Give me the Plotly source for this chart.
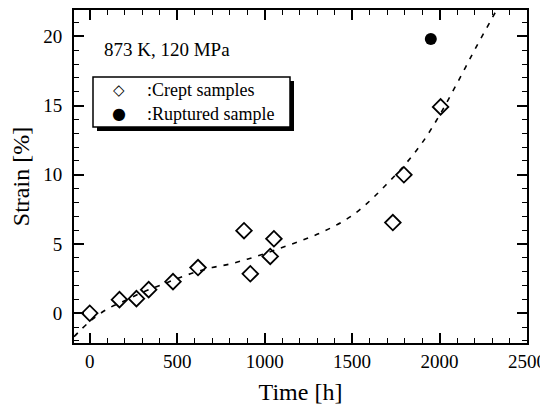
import plotly.graph_objects as go

# Crept samples
crept_time = [0, 170, 267, 337, 476, 619, 882, 918, 1032, 1053, 1733, 1796, 2006]
crept_strain = [0.0, 0.98, 1.05, 1.7, 2.28, 3.3, 5.96, 2.85, 4.1, 5.38, 6.55, 10.0, 14.9]
# Ruptured sample
rupt_time = [1950]
rupt_strain = [19.8]
# Dashed fit curve
fit_time = [-90, 0, 100, 200, 300, 400, 500, 600, 700, 800, 900, 1000, 1100, 1200, 1300,
            1400, 1500, 1600, 1700, 1800, 1900, 2000, 2100, 2200, 2300, 2340]
fit_strain = [-1.7, -0.6, 0.3, 0.9, 1.5, 2.0, 2.5, 2.95, 3.3, 3.55, 3.9, 4.3, 4.75, 5.2, 5.7,
              6.3, 7.05, 8.1, 9.35, 10.7, 12.3, 14.3, 16.6, 19.0, 21.3, 22.2]

x_ticks = [0, 500, 1000, 1500, 2000, 2500]
y_ticks = [0, 5, 10, 15, 20]
legend_labels = [":Crept samples", ":Ruptured sample"]

FONT = "Liberation Serif, Times New Roman, serif"

# page body has an 8px margin; figure starts at (8, 8) in the window
OFF = 8
# plot area in window pixels
L, R, T, B = 74, 527, 10, 343
W, H = R - L, B - T
FIG_W, FIG_H = 548 - OFF, 410 - OFF


def px(x):
    return (x - L) / W


def py(y):
    return (B - y) / H


fig = go.Figure()
fig.add_trace(go.Scatter(x=fit_time, y=fit_strain, mode="lines",
                         line=dict(color="black", width=1.6, dash="5px,7px", shape="spline"),
                         showlegend=False, hoverinfo="skip"))
fig.add_trace(go.Scatter(x=crept_time, y=crept_strain, mode="markers", name=legend_labels[0],
                         showlegend=False,
                         marker=dict(symbol="diamond-open", size=12, color="black",
                                     line=dict(width=1.8, color="black"))))
fig.add_trace(go.Scatter(x=rupt_time, y=rupt_strain, mode="markers", name=legend_labels[1],
                         showlegend=False,
                         marker=dict(symbol="circle", size=12, color="black")))

axis_common = dict(showline=True, linecolor="black", linewidth=2, mirror="ticks",
                   ticks="inside", ticklen=10, tickwidth=1.6, tickcolor="black",
                   showgrid=False, zeroline=False, automargin=False,
                   tickfont=dict(family=FONT, size=19, color="black"))

fig.update_xaxes(range=[-90, 2500], tickvals=x_ticks,
                 minor=dict(dtick=100, ticks="inside", ticklen=5, tickwidth=1.4, tickcolor="black", tick0=0),
                 title=dict(text="Time [h]", font=dict(family=FONT, size=24, color="black"), standoff=12),
                 **axis_common)
fig.update_yaxes(range=[-2.15, 21.9], tickvals=y_ticks, ticklabelstandoff=6,
                 minor=dict(dtick=1, ticks="inside", ticklen=5, tickwidth=1.4, tickcolor="black", tick0=0),
                 title=dict(text="Strain [%]", font=dict(family=FONT, size=24, color="black"), standoff=8),
                 **axis_common)

# manual legend: shadow + box
fig.add_shape(type="rect", xref="paper", yref="paper",
              x0=px(97), x1=px(294), y0=py(131), y1=py(81),
              fillcolor="black", line=dict(width=0), layer="above")
fig.add_shape(type="rect", xref="paper", yref="paper",
              x0=px(93), x1=px(290), y0=py(127), y1=py(77),
              fillcolor="white", line=dict(width=1.5, color="black"), layer="above")

annotations = [dict(text="873 K, 120 MPa", xref="paper", yref="paper",
                    x=px(102), y=py(50), xanchor="left", yanchor="middle",
                    showarrow=False, font=dict(family=FONT, size=19, color="black"))]
# legend symbols and labels
annotations.append(dict(text="◇", xref="paper", yref="paper", x=px(119), y=py(90),
                        xanchor="center", yanchor="middle", showarrow=False,
                        font=dict(family="DejaVu Sans", size=15, color="black")))
annotations.append(dict(text="●", xref="paper", yref="paper", x=px(119), y=py(114),
                        xanchor="center", yanchor="middle", showarrow=False,
                        font=dict(family="DejaVu Sans", size=16, color="black")))
for lab, yy in zip(legend_labels, [90, 114]):
    annotations.append(dict(text=lab, xref="paper", yref="paper", x=px(145), y=py(yy),
                            xanchor="left", yanchor="middle", showarrow=False,
                            font=dict(family=FONT, size=18, color="black")))

fig.update_layout(
    width=FIG_W, height=FIG_H,
    margin=dict(l=L - OFF, r=548 - R, t=T - OFF, b=410 - B),
    paper_bgcolor="white", plot_bgcolor="white",
    font=dict(family=FONT, color="black"),
    showlegend=False,
    annotations=annotations,
)

fig.write_html("out.html")
